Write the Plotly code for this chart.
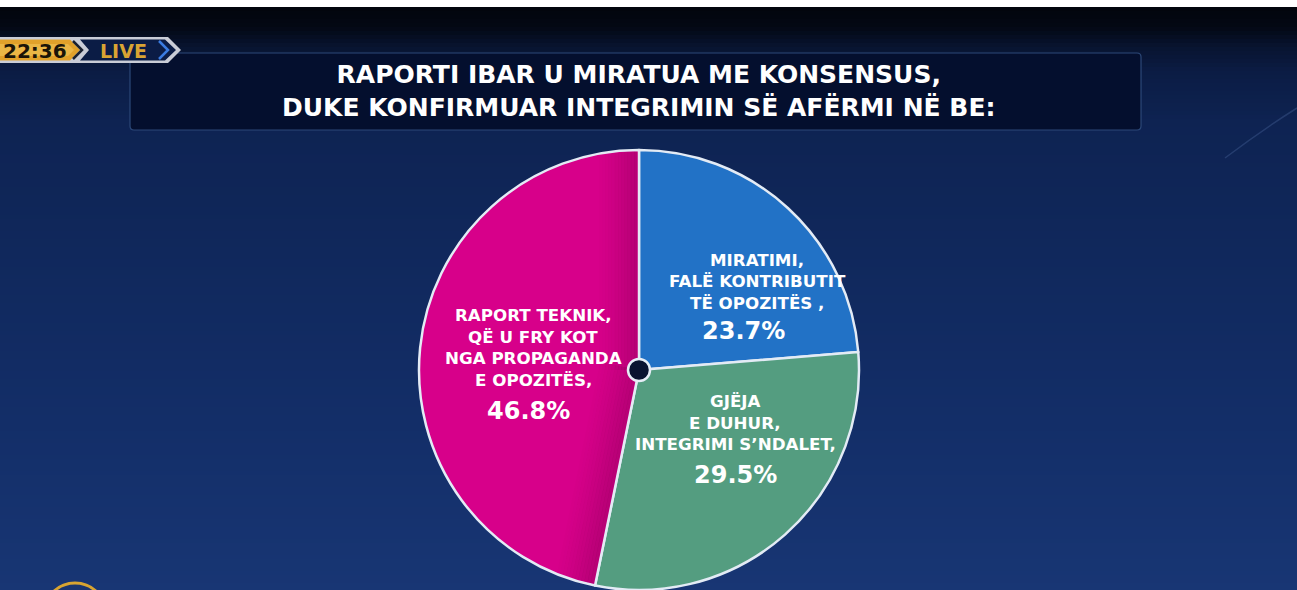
import math
import plotly.graph_objects as go

# ---------------- data ----------------
slice_names = ["MIRATIMI, FALË KONTRIBUTIT TË OPOZITËS", "GJËJA E DUHUR, INTEGRIMI S’NDALET",
               "RAPORT TEKNIK, QË U FRY KOT NGA PROPAGANDA E OPOZITËS"]
slice_values = [23.7, 29.5, 46.8]
slice_colors = ["#2272c6", "#549d80", "#d7008a"]
label_lines = [
    ["MIRATIMI,", "FALË KONTRIBUTIT", "TË OPOZITËS ,"],
    ["GJËJA", "E DUHUR,", "INTEGRIMI S’NDALET,"],
    ["RAPORT TEKNIK,", "QË U FRY KOT", "NGA PROPAGANDA", "E OPOZITËS,"],
]
pct_labels = ["23.7%", "29.5%", "46.8%"]
title_lines = ["RAPORTI IBAR U MIRATUA ME KONSENSUS,", "DUKE KONFIRMUAR INTEGRIMIN SË AFËRMI NË BE:"]
clock_text = "22:36"
live_text = "LIVE"

W, H = 1297, 590
label_pos = [(757, 259.5), (735, 401), (533, 315)]
pct_pos = [(743, 331), (735, 475), (528, 411)]
LINE = 21.7

def px(x):
    return x / W

def py(y):
    return 1 - y / H

def poly(pts):
    return "M " + " L ".join("%f %f" % (px(a), py(b)) for a, b in pts) + " Z"

fig = go.Figure()

cx, cy, r = 639, 370, 220
fig.add_trace(go.Pie(
    labels=slice_names, values=slice_values, sort=False, direction="clockwise",
    rotation=0, textinfo="none", hoverinfo="label+percent", showlegend=False,
    marker=dict(colors=slice_colors, line=dict(color="#e3ebf5", width=2.5)),
    domain=dict(x=[px(cx - r), px(cx + r)], y=[py(cy + r), py(cy - r)]),
))

shapes = []
# background: white strip on top, then dark-to-blue vertical gradient
grad = [(7, (2, 5, 13)), (25, (3, 8, 20)), (45, (8, 20, 48)), (70, (11, 28, 68)),
        (120, (14, 35, 82)), (250, (16, 40, 92)), (420, (19, 46, 104)), (590, (24, 54, 116))]
def lerp(a, b, t):
    return tuple(int(round(a[i] + (b[i] - a[i]) * t)) for i in range(3))
shapes.append(dict(type="rect", xref="paper", yref="paper", x0=0, x1=1, y0=py(7), y1=1,
                   fillcolor="#ffffff", line=dict(width=0), layer="below"))
y = 7
step = 4
while y < H:
    for i in range(len(grad) - 1):
        if grad[i][0] <= y <= grad[i + 1][0]:
            t = (y - grad[i][0]) / (grad[i + 1][0] - grad[i][0])
            c = lerp(grad[i][1], grad[i + 1][1], t)
            break
    shapes.append(dict(type="rect", xref="paper", yref="paper", x0=0, x1=1,
                       y0=py(min(y + step + 0.5, H)), y1=py(y),
                       fillcolor="rgb(%d,%d,%d)" % c, line=dict(width=0), layer="below"))
    y += step
for i in range(24):
    shapes.append(dict(type="rect", xref="paper", yref="paper", x0=0, x1=px(420 - i * 17),
                       y0=0, y1=py(150 + i * 4), fillcolor="rgba(70,110,180,0.011)",
                       line=dict(width=0), layer="below"))
shapes.append(dict(type="path", xref="paper", yref="paper",
                   path="M %f %f Q %f %f %f %f" % (px(1225), py(158), px(1262), py(130), px(1297), py(108)),
                   line=dict(color="rgba(120,150,210,0.22)", width=1.5), layer="below"))

# title box (rounded)
bx0, bx1, by0, by1, rr = 130, 1141, 53, 130, 4
path = ("M {a} {b} L {c} {b} Q {d} {b} {d} {e} L {d} {f} Q {d} {g} {c} {g} "
        "L {a} {g} Q {h} {g} {h} {f} L {h} {e} Q {h} {b} {a} {b} Z").format(
    a=px(bx0 + rr), b=py(by0), c=px(bx1 - rr), d=px(bx1), e=py(by0 + rr),
    f=py(by1 - rr), g=py(by1), h=px(bx0))
shapes.append(dict(type="path", xref="paper", yref="paper", path=path,
                   fillcolor="#040f2e", line=dict(color="#2c4878", width=1.2), layer="below"))

# LIVE badge
shapes.append(dict(type="path", xref="paper", yref="paper",
                   path=poly([(0, 37), (168, 37), (181, 50), (168, 63), (0, 63)]),
                   fillcolor="#c9ccd6", line=dict(width=0)))
shapes.append(dict(type="path", xref="paper", yref="paper",
                   path=poly([(0, 39.5), (70, 39.5), (80, 50), (70, 60.5), (0, 60.5)]),
                   fillcolor="#e1a12a", line=dict(width=0)))
shapes.append(dict(type="path", xref="paper", yref="paper",
                   path=poly([(0, 44), (68, 44), (74, 50), (68, 56), (0, 56)]),
                   fillcolor="rgba(255,220,120,0.35)", line=dict(width=0)))
shapes.append(dict(type="path", xref="paper", yref="paper",
                   path=poly([(80, 39.5), (165, 39.5), (176, 50), (165, 60.5), (80, 60.5), (89, 50)]),
                   fillcolor="#0b1c45", line=dict(width=0)))
shapes.append(dict(type="path", xref="paper", yref="paper",
                   path="M %f %f L %f %f L %f %f" % (px(73), py(41), px(82), py(50), px(73), py(59)),
                   line=dict(color="#1a2130", width=2.5)))
shapes.append(dict(type="path", xref="paper", yref="paper",
                   path="M %f %f L %f %f L %f %f" % (px(159), py(41), px(168), py(50), px(159), py(59)),
                   line=dict(color="#3a7be0", width=2.5)))
shapes.append(dict(type="circle", xref="paper", yref="paper",
                   x0=px(45), x1=px(105), y0=py(640), y1=py(583),
                   fillcolor="#1a3570", line=dict(color="#d8a431", width=3)))

# soft inner shading along both edges of the largest slice (angles derived from the data)
total = sum(slice_values)
start_deg = 360 * (slice_values[0] + slice_values[1]) / total
end_deg = 360.0
for bound_deg, sgn in ((start_deg, 1), (end_deg, -1)):
    th = math.radians(bound_deg)
    u = (math.sin(th), -math.cos(th))                  # along the boundary, screen coords
    n = (sgn * math.cos(th), sgn * math.sin(th))       # into the slice
    nb = 12
    for k in range(nb):
        d1 = 1.5 + k * 3.2
        d2 = d1 + 3.4
        a = 0.2 * (1 - k / nb) ** 1.3
        l1 = math.sqrt(r * r - d1 * d1) - 1.5
        l2 = math.sqrt(r * r - d2 * d2) - 1.5
        pts = [(cx + d1 * n[0], cy + d1 * n[1]),
               (cx + d1 * n[0] + l1 * u[0], cy + d1 * n[1] + l1 * u[1]),
               (cx + d2 * n[0] + l2 * u[0], cy + d2 * n[1] + l2 * u[1]),
               (cx + d2 * n[0], cy + d2 * n[1])]
        shapes.append(dict(type="path", xref="paper", yref="paper", path=poly(pts),
                           fillcolor="rgba(60,0,40,%.3f)" % a, line=dict(width=0)))

# centre dot
shapes.append(dict(type="circle", xref="paper", yref="paper",
                   x0=px(cx - 11), x1=px(cx + 11), y0=py(cy + 11), y1=py(cy - 11),
                   fillcolor="#0a1330", line=dict(color="#e6edf6", width=2.5)))

annotations = []
TF = "'DejaVu Sans', 'Open Sans', sans-serif"
annotations.append(dict(text="<br>".join(title_lines), xref="paper", yref="paper",
                        x=px(638), y=py(91), xanchor="center", yanchor="middle",
                        showarrow=False, align="center",
                        font=dict(family=TF, size=25, color="#ffffff", weight="bold")))
annotations.append(dict(text=clock_text, xref="paper", yref="paper", x=px(35), y=py(50.5),
                        xanchor="center", yanchor="middle", showarrow=False,
                        font=dict(family=TF, size=20, color="#1a1408", weight="bold")))
annotations.append(dict(text=live_text, xref="paper", yref="paper", x=px(123), y=py(50.5),
                        xanchor="center", yanchor="middle", showarrow=False,
                        font=dict(family=TF, size=19, color="#d9a433", weight="bold")))

for lines, (lx, ly), pct, (qx, qy) in zip(label_lines, label_pos, pct_labels, pct_pos):
    for i, ln in enumerate(lines):
        annotations.append(dict(text=ln, xref="paper", yref="paper", x=px(lx), y=py(ly + i * LINE),
                                xanchor="center", yanchor="middle", showarrow=False,
                                font=dict(family=TF, size=16.7, color="#ffffff", weight="bold")))
    annotations.append(dict(text=pct, xref="paper", yref="paper", x=px(qx), y=py(qy),
                            xanchor="center", yanchor="middle", showarrow=False,
                            font=dict(family=TF, size=24, color="#ffffff", weight="bold")))

fig.update_layout(width=W, height=H, margin=dict(l=0, r=0, t=0, b=0),
                  paper_bgcolor="#10285c", plot_bgcolor="#10285c",
                  shapes=shapes, annotations=annotations, showlegend=False)

fig.write_html("out.html", config={"displayModeBar": False},
               post_script="document.body.style.margin='0';document.body.style.overflow='hidden';")
